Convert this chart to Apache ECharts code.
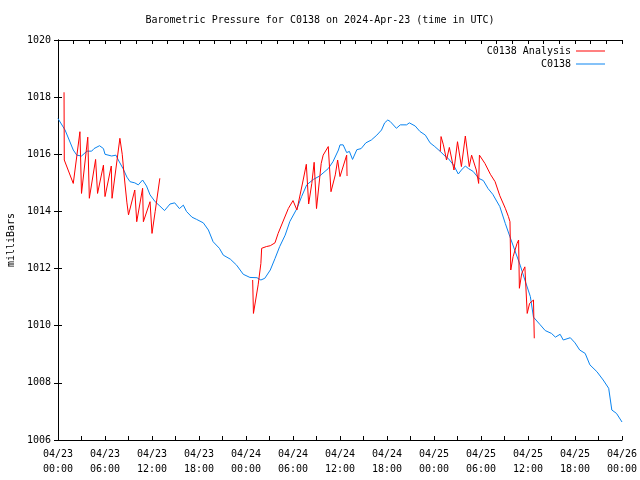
<!DOCTYPE html>
<html>
<head>
<meta charset="utf-8">
<script src="https://cdn.jsdelivr.net/npm/echarts@6/dist/echarts.min.js"></script>
<style>
html,body{margin:0;padding:0;background:#fff;}
#chart{width:640px;height:480px;}
</style>
</head>
<body>
<div id="chart"></div>
<script>
// hours since 2024-04-23 00:00 UTC
var observedHours = [0,0.9,1.95,2.4,3.0,3.7,4.3,4.6,5.3,5.8,6.0,6.85,7.4,7.7,8.3,8.8,9.2,9.8,10.25,10.8,11.3,11.75,12.4,13.0,13.6,14.3,14.9,15.5,16.0,16.4,17.1,17.7,18.55,19.2,19.8,20.6,21.1,22.0,22.8,23.65,24.5,25.4,25.9,26.4,27.1,27.7,28.3,29.0,29.6,30.5,31.1,31.75,32.6,33.4,34.5,35.1,35.8,36.0,36.4,36.85,37.2,37.6,38.15,38.7,39.3,40.0,40.7,41.3,41.7,42.1,42.4,43.2,43.7,44.5,44.85,45.6,46.2,46.9,47.5,48.1,48.8,49.4,49.8,50.5,51.1,51.5,52.0,52.4,53.0,53.7,54.3,54.9,55.5,56.4,57.1,57.7,58.3,59.0,59.6,60.3,60.7,61.5,62.2,63.0,63.5,64.1,64.5,65.4,66.0,66.6,67.3,67.9,68.8,69.6,70.3,70.7,71.3,72.0];
var observedValues = [1017.25,1016.85,1016.15,1015.97,1015.94,1016.11,1016.11,1016.2,1016.3,1016.2,1016.0,1015.94,1015.97,1015.8,1015.5,1015.2,1015.04,1015.0,1014.93,1015.1,1014.89,1014.58,1014.34,1014.19,1014.03,1014.26,1014.3,1014.1,1014.22,1014.0,1013.8,1013.72,1013.6,1013.35,1012.94,1012.71,1012.47,1012.33,1012.12,1011.8,1011.69,1011.68,1011.6,1011.66,1011.95,1012.35,1012.77,1013.17,1013.65,1014.1,1014.52,1014.93,1015.12,1015.24,1015.5,1015.74,1016.15,1016.33,1016.33,1016.06,1016.1,1015.82,1016.16,1016.2,1016.4,1016.5,1016.67,1016.85,1017.1,1017.2,1017.15,1016.91,1017.03,1017.03,1017.1,1016.99,1016.8,1016.67,1016.4,1016.27,1016.1,1015.94,1015.86,1015.62,1015.31,1015.45,1015.59,1015.5,1015.4,1015.16,1015.08,1014.8,1014.6,1014.17,1013.58,1013.11,1012.65,1012.12,1011.6,1011.02,1010.3,1010.05,1009.83,1009.73,1009.6,1009.7,1009.5,1009.58,1009.4,1009.15,1009.03,1008.63,1008.39,1008.1,1007.81,1007.05,1006.93,1006.63];

// null entries mark gaps in the analysis series
var analysisHours = [0.77,0.8,1.95,2.8,3.0,3.8,4.0,4.8,5.05,5.8,6.0,6.8,6.9,7.9,8.2,8.5,8.8,9.0,9.8,10.05,10.8,10.9,11.75,12.0,12.4,13.0,
  18,
  24.85,24.95,25.55,25.9,26.0,26.6,27.1,27.7,28.1,28.8,29.4,30.0,30.5,30.7,31.3,31.7,32.0,32.4,32.7,33.0,33.6,33.85,34.5,34.6,34.85,35.4,35.7,36.0,36.85,36.9,
  42,
  48.8,48.9,49.2,49.6,49.96,50.55,51.0,51.5,52.0,52.5,52.8,53.4,53.7,53.8,54.5,55.2,55.8,56.4,57.1,57.5,57.7,57.8,58.1,58.6,58.8,58.9,59.2,59.6,59.9,60.2,60.7,60.8];
var analysisValues = [1018.17,1015.8,1014.98,1016.79,1014.63,1016.6,1014.46,1015.82,1014.63,1015.62,1014.52,1015.59,1014.46,1016.56,1016.0,1015.1,1014.3,1013.88,1014.75,1013.64,1014.81,1013.64,1014.34,1013.23,1013.99,1015.16,
  null,
  1011.6,1010.43,1011.43,1012.18,1012.71,1012.77,1012.8,1012.9,1013.23,1013.7,1014.1,1014.38,1014.05,1013.99,1015.1,1015.65,1014.26,1014.98,1015.72,1014.1,1015.68,1015.97,1016.27,1016.33,1014.69,1015.28,1015.8,1015.22,1015.97,1015.24,
  null,
  1016.1,1016.62,1016.33,1015.8,1016.24,1015.45,1016.44,1015.57,1016.64,1015.57,1015.97,1015.45,1014.98,1015.97,1015.68,1015.3,1015.04,1014.55,1014.11,1013.82,1013.64,1011.95,1012.42,1012.88,1013.0,1011.31,1011.83,1012.06,1010.43,1010.78,1010.9,1009.56];

var titleText = 'Barometric Pressure for C0138 on 2024-Apr-23 (time in UTC)';
var yTitle = 'milliBars';
var seriesNames = ['C0138 Analysis', 'C0138'];

function pairs(xs, ys) {
  var out = [];
  for (var i = 0; i < xs.length; i++) {
    out.push(ys[i] === null ? [xs[i], '-'] : [xs[i], ys[i]]);
  }
  return out;
}
function pad(n){ return (n < 10 ? '0' : '') + n; }
function xLabel(h) {
  if (h % 6 !== 0) return '';
  var day = 23 + Math.floor(h / 24);
  return '04/' + pad(day) + '\n' + pad(h % 24) + ':00';
}

var FONT = 'DejaVu Sans Mono';
var chart = echarts.init(document.getElementById('chart'), null, {renderer: 'canvas'});
var axisLine = {show: true, lineStyle: {color: '#000', width: 1}};
chart.setOption({
  animation: false,
  backgroundColor: '#fff',
  textStyle: {fontFamily: FONT, fontSize: 10, color: '#000'},
  title: {
    text: titleText, left: 'center', top: 10,
    textStyle: {fontFamily: FONT, fontSize: 10, fontWeight: 'normal', color: '#000'}
  },
  grid: {left: 58, right: 18, top: 40, bottom: 40, containLabel: false, outerBoundsMode: 'none'},
  legend: [
    {data: [seriesNames[0]], right: 30, top: 41, orient: 'vertical', align: 'right',
     icon: 'rect', itemWidth: 29, itemHeight: 1,
     textStyle: {fontFamily: FONT, fontSize: 10, color: '#000'}},
    {data: [seriesNames[1]], right: 30, top: 54, orient: 'vertical', align: 'right',
     icon: 'rect', itemWidth: 29, itemHeight: 1,
     textStyle: {fontFamily: FONT, fontSize: 10, color: '#000'}}
  ],
  xAxis: [
    {type: 'value', min: 0, max: 72, interval: 3, position: 'bottom',
     axisLine: axisLine,
     axisTick: {show: true, inside: true, length: 4, lineStyle: {color: '#000'}},
     axisLabel: {formatter: xLabel, fontFamily: FONT, fontSize: 10, color: '#000', margin: 7, lineHeight: 15, showMinLabel: true, showMaxLabel: true},
     splitLine: {show: false}},
    {type: 'value', min: 0, max: 72, interval: 2, position: 'top',
     axisLine: axisLine,
     axisTick: {show: true, inside: true, length: 4, lineStyle: {color: '#000'}},
     axisLabel: {show: false}, splitLine: {show: false}}
  ],
  yAxis: [
    {type: 'value', min: 1006, max: 1020, interval: 2, position: 'left',
     name: yTitle, nameLocation: 'middle', nameGap: 42, nameRotate: 90,
     nameTextStyle: {fontFamily: FONT, fontSize: 10, color: '#000'},
     axisLine: axisLine,
     axisTick: {show: true, inside: true, length: 4, lineStyle: {color: '#000'}},
     axisLabel: {fontFamily: FONT, fontSize: 10, color: '#000', margin: 7, formatter: function(v){ return String(v); }},
     splitLine: {show: false}},
    {type: 'value', min: 1006, max: 1020, interval: 2, position: 'right',
     axisLine: axisLine,
     axisTick: {show: true, inside: true, length: 4, lineStyle: {color: '#000'}},
     axisLabel: {show: false}, splitLine: {show: false}}
  ],
  series: [
    {name: seriesNames[0], type: 'line', data: pairs(analysisHours, analysisValues),
     showSymbol: false, connectNulls: false, color: '#ff0000',
     lineStyle: {color: '#ff0000', width: 1}, z: 3},
    {name: seriesNames[1], type: 'line', data: pairs(observedHours, observedValues),
     showSymbol: false, color: '#0a84f0',
     lineStyle: {color: '#0a84f0', width: 1}, z: 2}
  ]
});
</script>
</body>
</html>
